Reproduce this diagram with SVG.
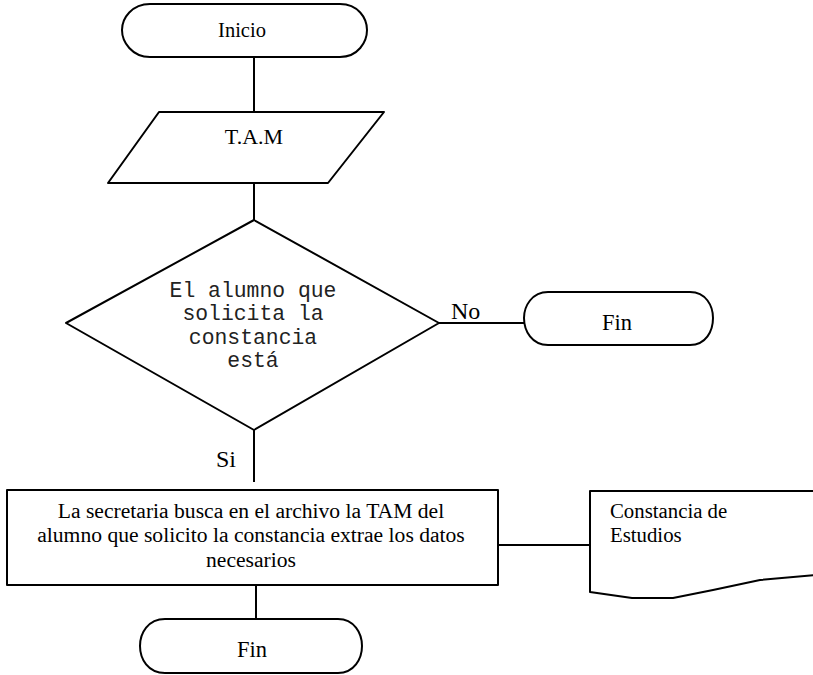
<svg xmlns="http://www.w3.org/2000/svg" width="813" height="675" viewBox="0 0 813 675">
  <style>
    .shape { fill: #ffffff; stroke: #000000; stroke-width: 2; stroke-linejoin: round; }
    .line { fill: none; stroke: #000000; stroke-width: 2; }
    .serif { font-family: "Liberation Serif", "Times New Roman", serif; fill: #000000; }
    .mono { font-family: "Liberation Mono", "Courier New", monospace; fill: #222222; font-size: 21.4px; }
    .mid { text-anchor: middle; }
  </style>
  <rect width="813" height="675" fill="#ffffff"/>

  <!-- connectors -->
  <g id="connectors">
    <line class="line" x1="254" y1="57" x2="254" y2="112"/>
    <line class="line" x1="254" y1="183" x2="254" y2="220"/>
    <line class="line" x1="439" y1="323" x2="525" y2="323"/>
    <line class="line" x1="254" y1="430" x2="254" y2="482"/>
    <line class="line" x1="498" y1="545" x2="590" y2="545"/>
    <line class="line" x1="256" y1="584" x2="256" y2="619"/>
    <text class="serif" x="451" y="319" font-size="24">No</text>
    <text class="serif" x="216" y="467" font-size="24">Si</text>
  </g>

  <!-- start terminal -->
  <g id="inicio">
    <path class="shape" d="M150,4 H340 C358,4 367,18 367,30 C367,42 358,57 340,57 H150 C132,57 122,42 122,30 C122,18 132,4 150,4 Z"/>
    <text class="serif mid" x="242" y="37" font-size="20.5">Inicio</text>
  </g>

  <!-- input -->
  <g id="tam">
    <polygon class="shape" points="159,112 384,112 328,183 108,183"/>
    <text class="serif mid" x="254" y="144" font-size="22">T.A.M</text>
  </g>

  <!-- decision -->
  <g id="decision">
    <polygon class="shape" points="254,220 439,323 254,430 66,323"/>
    <text class="mono mid" x="253" y="297">El alumno que</text>
    <text class="mono mid" x="253" y="320">solicita la</text>
    <text class="mono mid" x="253" y="344">constancia</text>
    <text class="mono mid" x="253" y="367">está</text>
  </g>

  <!-- end terminal (No branch) -->
  <g id="fin-no">
    <path class="shape" d="M548,292 H690 C706,292 713,306 713,318 C713,331 706,345 690,345 H548 C532,345 524,331 524,318 C524,306 532,292 548,292 Z"/>
    <text class="serif mid" x="617" y="330" font-size="22.5">Fin</text>
  </g>

  <!-- process -->
  <g id="proceso">
    <rect class="shape" x="7" y="490" width="491" height="95"/>
    <text class="serif mid" x="251" y="518" font-size="21.6">La secretaria busca en el archivo la TAM del</text>
    <text class="serif mid" x="251" y="542" font-size="21.6">alumno que solicito la constancia extrae los datos</text>
    <text class="serif mid" x="251" y="567" font-size="21.6">necesarios</text>
  </g>

  <!-- document -->
  <g id="documento">
    <path class="shape" d="M815,491 H590 V592 L632,598 L673,598 L713,590 L760,580 L815,575"/>
    <text class="serif" x="610" y="518" font-size="20.8">Constancia de</text>
    <text class="serif" x="610" y="542" font-size="20.8">Estudios</text>
  </g>

  <!-- end terminal -->
  <g id="fin">
    <path class="shape" d="M165,619 H338 C354,619 362,633 362,646 C362,659 354,673 338,673 H165 C148,673 140,659 140,646 C140,633 148,619 165,619 Z"/>
    <text class="serif mid" x="252" y="657" font-size="22.5">Fin</text>
  </g>
</svg>
